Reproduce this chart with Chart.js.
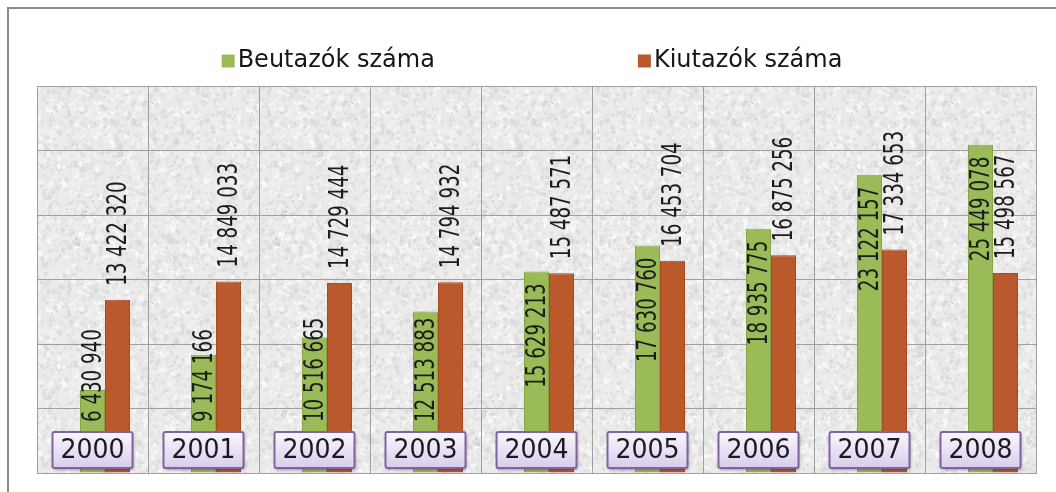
<!DOCTYPE html>
<html>
<head>
<meta charset="utf-8">
<script src="https://cdn.jsdelivr.net/npm/chart.js@4"></script>
<style>
  body { margin: 0; background: #fff; }
</style>
</head>
<body>
<canvas id="turizmusChart" width="1056" height="492"></canvas>
<script>

// adatok
const evek = ['2000', '2001', '2002', '2003', '2004', '2005', '2006', '2007', '2008']
const beutazok = [6430940, 9174166, 10516665, 12513883, 15629213, 17630760, 18935775, 23122157, 25449078]
const kiutazok = [13422320, 14849033, 14729444, 14794932, 15487571, 16453704, 16875256, 17334653, 15498567]
const sorozatNevek = ['Beutazók száma', 'Kiutazók száma']
const yMax = 30000000
const yLepes = 5000000

const zold = '#9bbb59'
const narancs = '#b9592c'
const racsSzin = '#a0a0a0'

let fmt = v => String(v).replace(/\B(?=(\d{3})+(?!\d))/g, ' ')

// granit-szeru hatter a rajzterulethez
let makeTexture = () => {
  const c = document.createElement('canvas')
  c.width = 200; c.height = 200
  const g = c.getContext('2d')
  g.fillStyle = '#ebebeb'
  g.fillRect(0, 0, 200, 200)
  let seed = 11
  const rnd = () => { seed = (seed * 16807) % 2147483647; return seed / 2147483647 }
  for (let i = 0; i < 2200; i++) {
    const s = 212 + Math.floor(rnd() * 43)
    g.fillStyle = `rgba(${s},${s},${s},0.7)`
    g.beginPath()
    g.ellipse(rnd() * 200, rnd() * 200, 1 + rnd() * 3, 0.8 + rnd() * 2, rnd() * Math.PI, 0, Math.PI * 2)
    g.fill()
  }
  for (let i = 0; i < 500; i++) {
    const s = 185 + Math.floor(rnd() * 30)
    g.fillStyle = `rgba(${s},${s},${s},0.6)`
    g.fillRect(rnd() * 200, rnd() * 200, 1 + rnd(), 1 + rnd())
  }
  return c
}

const hatterPlugin = {
  id: 'hatter',
  beforeDraw(chart) {
    const ctx = chart.ctx
    const a = chart.chartArea
    ctx.save()
    ctx.fillStyle = '#fff'
    ctx.fillRect(0, 0, chart.width, chart.height)
    // kulso keret
    ctx.strokeStyle = '#8a8a8a'
    ctx.lineWidth = 2
    ctx.beginPath()
    ctx.moveTo(8, chart.height)
    ctx.lineTo(8, 8)
    ctx.lineTo(chart.width, 8)
    ctx.stroke()
    ctx.fillStyle = ctx.createPattern(makeTexture(), 'repeat')
    ctx.fillRect(a.left, a.top, a.right - a.left, a.bottom - a.top)
    ctx.restore()
  }
}

const cimkePlugin = {
  id: 'cimkek',
  afterDatasetsDraw(chart) {
    const ctx = chart.ctx
    const sz = 0.78 // keskenyebb betu
    ctx.save()
    ctx.font = '26px "DejaVu Sans Condensed", "DejaVu Sans", sans-serif'
    ctx.fillStyle = '#1c1c1c'
    ctx.textBaseline = 'middle'
    ctx.textAlign = 'left'
    ;[1, 2].forEach(di => {
      const meta = chart.getDatasetMeta(di)
      meta.data.forEach((bar, i) => {
        const txt = fmt(chart.data.datasets[di].data[i])
        const w = ctx.measureText(txt).width * sz
        let start
        if (di === 1) {
          start = Math.min(bar.y + 12 + w, 422)
        } else {
          start = bar.y - 14
        }
        ctx.save()
        ctx.translate(bar.x + 2, start)
        ctx.rotate(-Math.PI / 2)
        ctx.scale(sz, 1)
        ctx.fillText(txt, 0, 0)
        ctx.restore()
      })
    })

    // evszam dobozok
    const xs = chart.scales.x
    const bottom = chart.chartArea.bottom
    ctx.font = '24px "DejaVu Sans", Verdana, sans-serif'
    ctx.textAlign = 'center'
    evek.forEach((ev, i) => {
      const cx = xs.getPixelForValue(i)
      const bw = 80, bh = 36
      const x = cx - bw / 2, y = bottom - 41
      ctx.save()
      ctx.shadowColor = 'rgba(0,0,0,0.35)'
      ctx.shadowBlur = 3
      ctx.shadowOffsetX = 1
      ctx.shadowOffsetY = 2
      const grad = ctx.createLinearGradient(0, y, 0, y + bh)
      grad.addColorStop(0, '#faf7fd')
      grad.addColorStop(1, '#d9cdeb')
      ctx.fillStyle = grad
      ctx.beginPath()
      ctx.roundRect(x, y, bw, bh, 2)
      ctx.fill()
      ctx.restore()
      ctx.strokeStyle = '#8064a2'
      ctx.lineWidth = 2
      ctx.beginPath()
      ctx.roundRect(x, y, bw, bh, 2)
      ctx.stroke()
      ctx.fillStyle = '#1a1a24'
      ctx.save()
      ctx.translate(cx, y + bh / 2 + 1)
      ctx.scale(1.05, 1.08)
      ctx.fillText(ev, 0, 0)
      ctx.restore()
    })
    ctx.restore()
  }
}

const jelmagyarazatPlugin = {
  id: 'jelmagyarazat',
  afterDraw(chart) {
    const ctx = chart.ctx
    ctx.save()
    ctx.font = '24px "DejaVu Sans", sans-serif'
    ctx.textBaseline = 'middle'
    ctx.textAlign = 'left'
    const items = [1, 2].map(di => ({
      text: chart.data.datasets[di].label,
      color: chart.data.datasets[di].backgroundColor
    }))
    const gap = 203
    const widths = items.map(it => 16 + ctx.measureText(it.text).width)
    const total = widths[0] + gap + widths[1]
    let x = 532 - total / 2
    const cy = 61
    items.forEach((it, i) => {
      ctx.fillStyle = it.color
      ctx.fillRect(x, cy - 6.5, 13, 13)
      ctx.fillStyle = '#161616'
      ctx.fillText(it.text, x + 16, cy)
      x += widths[i] + gap
    })
    ctx.restore()
  }
}

let createBarChart = () => {
  const ctx = document.getElementById('turizmusChart').getContext('2d')
  return new Chart(ctx, {
    type: 'bar',
    data: {
      labels: evek,
      datasets: [
        { label: '', data: evek.map(() => null) },
        {
          label: sorozatNevek[0],
          data: beutazok,
          backgroundColor: zold,
          borderColor: '#86a548',
          borderWidth: 1
        },
        {
          label: sorozatNevek[1],
          data: kiutazok,
          backgroundColor: narancs,
          borderColor: '#a44b22',
          borderWidth: 1
        }
      ]
    },
    options: {
      responsive: false,
      animation: false,
      barPercentage: 1,
      categoryPercentage: 0.676,
      layout: { padding: { left: 37, top: 86, right: 20, bottom: 19 } },
      plugins: {
        legend: { display: false },
        tooltip: { enabled: false }
      },
      scales: {
        x: {
          offset: true,
          grid: { offset: true, color: racsSzin, drawTicks: false },
          border: { color: racsSzin },
          ticks: { display: false }
        },
        y: {
          min: 0,
          max: yMax,
          ticks: { display: false, stepSize: yLepes },
          grid: { color: racsSzin, drawTicks: false },
          border: { color: racsSzin }
        }
      }
    },
    plugins: [hatterPlugin, cimkePlugin, jelmagyarazatPlugin]
  })
}

let chartInstance = createBarChart()
</script>
</body>
</html>
